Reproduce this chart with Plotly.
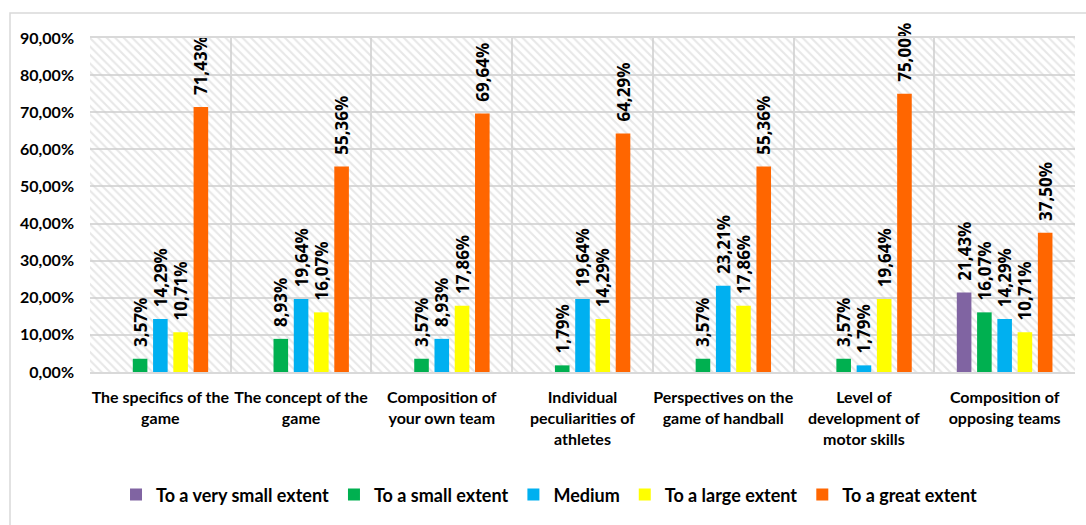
import plotly.graph_objects as go

categories = [
    "The specifics of the<br>game",
    "The concept of the<br>game",
    "Composition of<br>your own team",
    "Individual<br>peculiarities of<br>athletes",
    "Perspectives on the<br>game of handball",
    "Level of<br>development of<br>motor skills",
    "Composition of<br>opposing teams",
]
series_names = ["To a very small extent", "To a small extent", "Medium",
                "To a large extent", "To a great extent"]
very_small = [0, 0, 0, 0, 0, 0, 21.43]
small = [3.57, 8.93, 3.57, 1.79, 3.57, 3.57, 16.07]
medium = [14.29, 19.64, 8.93, 19.64, 23.21, 1.79, 14.29]
large = [10.71, 16.07, 17.86, 14.29, 17.86, 19.64, 10.71]
great = [71.43, 55.36, 69.64, 64.29, 55.36, 75.00, 37.50]
colors = ["#8064A2", "#00B050", "#00B0F0", "#FFFF00", "#FF6600"]
y_max = 90

W, H = 1086, 525
ML, MR, MT, MB = 90, 11, 38, 153
PW, PH = W - ML - MR, H - MT - MB

def lbl(v):
    return ("\u00a0\u00a0" + f"{v:.2f}".replace(".", ",") + "%") if v > 0 else ""

fig = go.Figure()

# hatched plot-area background
fig.add_trace(go.Bar(
    x=categories, y=[y_max] * len(categories), width=1,
    xaxis="x", yaxis="y", showlegend=False, hoverinfo="skip",
    marker=dict(color="rgba(0,0,0,0)", line=dict(width=0),
                pattern=dict(shape="\\", fgcolor="#cfcfcf", bgcolor="rgba(0,0,0,0)",
                             size=6, solidity=0.35)),
))

for name, vals, c in zip(series_names, [very_small, small, medium, large, great], colors):
    fig.add_trace(go.Bar(
        name=name, x=categories, y=vals, xaxis="x2", yaxis="y",
        marker=dict(color=c, line=dict(width=0)),
        text=[lbl(v) for v in vals], textposition="outside", textangle=-90,
        constraintext="none", cliponaxis=False,
        textfont=dict(family="Open Sans", size=17, color="#000000", weight="bold"),
        hoverinfo="skip",
    ))

fig.update_layout(
    width=W, height=H,
    margin=dict(l=ML, r=MR, t=MT, b=MB),
    paper_bgcolor="white", plot_bgcolor="white",
    separators=",.",
    barmode="group", bargap=0.28, bargroupgap=0.28,
    font=dict(family="Lato", size=16, color="#000000"),
    xaxis=dict(type="category", range=[-0.5, 6.5], tickson="boundaries",
               showgrid=True, gridcolor="#d9d9d9", gridwidth=1.5,
               showline=True, linecolor="#d9d9d9", linewidth=1.5, mirror=True,
               ticks="", ticklabelstandoff=10, tickangle=0, automargin=False,
               tickfont=dict(family="Lato", size=16, color="#000000", weight="bold")),
    xaxis2=dict(type="category", range=[-0.5, 6.5], overlaying="x",
                showticklabels=False, showgrid=False, showline=False, ticks=""),
    yaxis=dict(range=[0, y_max], dtick=10, tickformat=".2f", ticksuffix="%",
               showgrid=True, gridcolor="#d9d9d9", gridwidth=1.5, automargin=False,
               zeroline=False, ticks="", ticklabelstandoff=15,
               tickfont=dict(family="Lato", size=16, color="#000000", weight="bold")),
    legend=dict(orientation="h", x=0.466, xanchor="center", y=-0.368, yanchor="middle",
                font=dict(family="Lato", size=18, color="#000000", weight="bold"),
                itemwidth=30, traceorder="normal"),
    shapes=[dict(type="rect", xref="paper", yref="paper",
                 x0=(10 - ML) / PW, x1=(1100 - ML) / PW,
                 y0=1 + (MT - 13) / PH, y1=-(MB + 20) / PH,
                 line=dict(color="#d9d9d9", width=1.5), fillcolor="rgba(0,0,0,0)",
                 layer="below")],
)

fig.write_html("out.html")
